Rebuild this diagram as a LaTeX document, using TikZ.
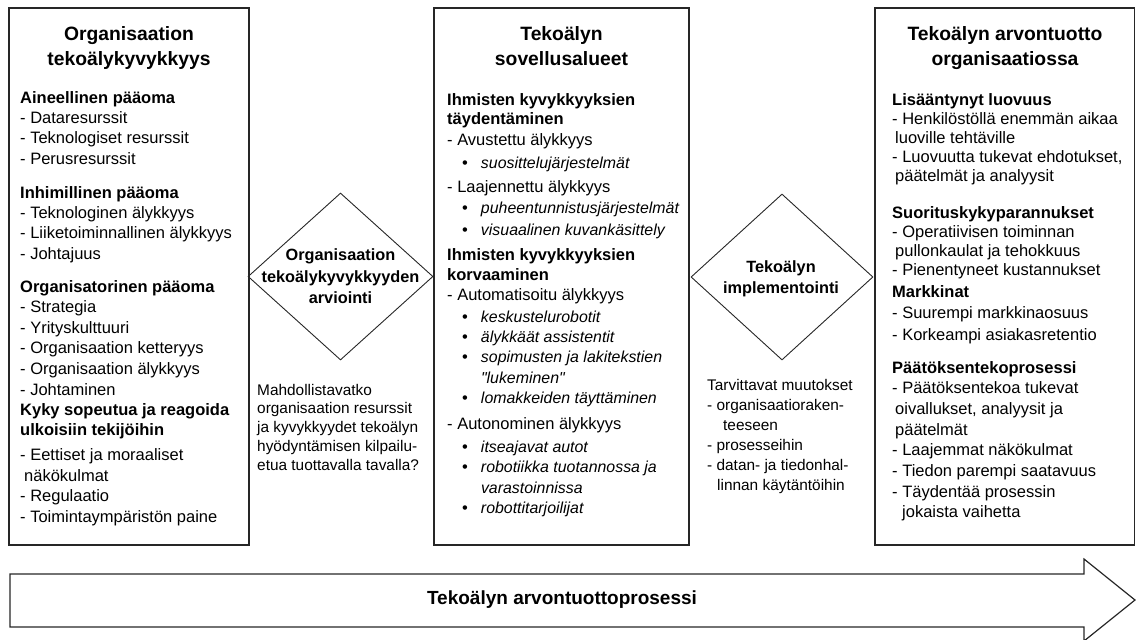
\documentclass[tikz,border=0pt]{standalone}
\usepackage{fontspec}
\setmainfont{Liberation Sans}[Ligatures=TeXOff]
\usetikzlibrary{shapes.geometric}

\newcommand{\aibullet}[1]{\hspace*{15pt}\textbullet\hspace*{13pt}{\fontsize{15.9}{20}\selectfont\itshape #1}}
\newcommand{\aicont}[1]{\hspace*{33.8pt}{\fontsize{15.9}{20}\selectfont\itshape #1}}

\begin{document}
\begin{tikzpicture}[x=1pt, y=-1pt,
    panel/.style = {draw=black!85, line width=1.1pt},
    gate/.style = {diamond, draw=black!85, line width=0.9pt, inner sep=0pt},
    paneltitle/.style = {anchor=base, align=center, inner sep=0pt,
        font=\fontsize{19.3}{25}\selectfont\bfseries},
    listtext/.style = {anchor=base west, align=left, inner sep=0pt,
        font=\fontsize{16.5}{20.4}\selectfont},
    gatetext/.style = {align=center, inner sep=0pt,
        font=\fontsize{16.3}{21.5}\selectfont\bfseries},
    notetext/.style = {anchor=base west, align=left, inner sep=0pt,
        font=\fontsize{15.4}{18.8}\selectfont}]

  \useasboundingbox (0,0) rectangle (1136,640);

  % three panels
  \draw[panel] (9,8) rectangle (249,545);
  \draw[panel] (434,8) rectangle (689,545);
  \draw[panel] (875,8) rectangle (1134.5,545);

  % left panel (nodes sit on the baseline of their last line)
  \node[paneltitle] (capatitle) at (129,65) {Organisaation\\tekoälykyvykkyys};
  \node[listtext] (tangible) at (20,164.2) {\textbf{Aineellinen pääoma}\\- Dataresurssit\\- Teknologiset resurssit\\- Perusresurssit};
  \node[listtext] (human) at (20,259.2) {\textbf{Inhimillinen pääoma}\\- Teknologinen älykkyys\\- Liiketoiminnallinen älykkyys\\- Johtajuus};
  \node[listtext, font=\fontsize{16.5}{20.6}\selectfont] (orgcap) at (20,395) {\textbf{Organisatorinen pääoma}\\- Strategia\\- Yrityskulttuuri\\- Organisaation ketteryys\\- Organisaation älykkyys\\- Johtaminen};
  \node[listtext] (adapt) at (20,522) {\textbf{Kyky sopeutua ja reagoida}\\\textbf{ulkoisiin tekijöihin}\\[5pt]- Eettiset ja moraaliset\\\hspace*{4pt}näkökulmat\\- Regulaatio\\- Toimintaympäristön paine};

  % middle panel
  \node[paneltitle] (apptitle) at (561.5,65) {Tekoälyn\\sovellusalueet};
  \node[listtext, font=\fontsize{16.5}{20}\selectfont] (applist) at (447,513) {%
    \textbf{Ihmisten kyvykkyyksien}\\[-1pt]
    \textbf{täydentäminen}\\[1pt]
    - Avustettu älykkyys\\[3pt]
    \aibullet{suosittelujärjestelmät}\\[4pt]
    - Laajennettu älykkyys\\[1pt]
    \aibullet{puheentunnistusjärjestelmät}\\[2pt]
    \aibullet{visuaalinen kuvankäsittely}\\[5pt]
    \textbf{Ihmisten kyvykkyyksien}\\
    \textbf{korvaaminen}\\
    - Automatisoitu älykkyys\\[2pt]
    \aibullet{keskustelurobotit}\\
    \aibullet{älykkäät assistentit}\\
    \aibullet{sopimusten ja lakitekstien}\\[1pt]
    \aicont{"lukeminen"}\\
    \aibullet{lomakkeiden täyttäminen}\\[6pt]
    - Autonominen älykkyys\\[3pt]
    \aibullet{itseajavat autot}\\
    \aibullet{robotiikka tuotannossa ja}\\[1pt]
    \aicont{varastoinnissa}\\
    \aibullet{robottitarjoilijat}};

  % right panel
  \node[paneltitle] (valuetitle) at (1005,65) {Tekoälyn arvontuotto\\organisaatiossa};
  \node[listtext, font=\fontsize{16.5}{19.2}\selectfont] (creative) at (892,181.8) {\textbf{Lisääntynyt luovuus}\\- Henkilöstöllä enemmän aikaa\\\hspace*{3pt}luoville tehtäville\\- Luovuutta tukevat ehdotukset,\\\hspace*{3pt}päätelmät ja analyysit};
  \node[listtext, font=\fontsize{16.5}{19.2}\selectfont] (perform) at (892,275.6) {\textbf{Suorituskykyparannukset}\\- Operatiivisen toiminnan\\\hspace*{3pt}pullonkaulat ja tehokkuus\\- Pienentyneet kustannukset};
  \node[listtext, font=\fontsize{16.5}{21.5}\selectfont] (market) at (892,340) {\textbf{Markkinat}\\- Suurempi markkinaosuus\\- Korkeampi asiakasretentio};
  \node[listtext, font=\fontsize{16.5}{20.7}\selectfont] (decision) at (892,517.9) {\textbf{Päätöksentekoprosessi}\\- Päätöksentekoa tukevat\\\hspace*{3pt}oivallukset, analyysit ja\\\hspace*{3pt}päätelmät\\- Laajemmat näkökulmat\\- Tiedon parempi saatavuus\\- Täydentää prosessin\\\hspace*{10pt}jokaista vaihetta};

  % diamonds between the panels
  \node[gate, minimum width=185pt, minimum height=167pt] (assess) at (340.5,276.5) {};
  \node[gatetext] (assesstext) at (assess.center) {Organisaation\\tekoälykyvykkyyden\\arviointi};
  \node[notetext] (assessnote) at (257,470.2) {Mahdollistavatko\\organisaation resurssit\\ja kyvykkyydet tekoälyn\\hyödyntämisen kilpailu-\\etua tuottavalla tavalla?};

  \node[gate, minimum width=182pt, minimum height=166pt] (implement) at (782,277) {};
  \node[gatetext] (implementtext) at (781,279) {Tekoälyn\\implementointi};
  \node[notetext, font=\fontsize{15.4}{20}\selectfont] (implementnote) at (707,490) {Tarvittavat muutokset\\- organisaatioraken-\\\hspace*{16pt}teeseen\\- prosesseihin\\- datan- ja tiedonhal-\\\hspace*{10pt}linnan käytäntöihin};

  % process arrow
  \draw[panel, line width=1.2pt] (10,574) -- (1084,574) -- (1084,559) -- (1135,600)
      -- (1084,641) -- (1084,627) -- (10,627) -- cycle;
  \node[font=\fontsize{19}{23}\selectfont\bfseries] (process) at (562,600) {Tekoälyn arvontuottoprosessi};
\end{tikzpicture}
\end{document}
